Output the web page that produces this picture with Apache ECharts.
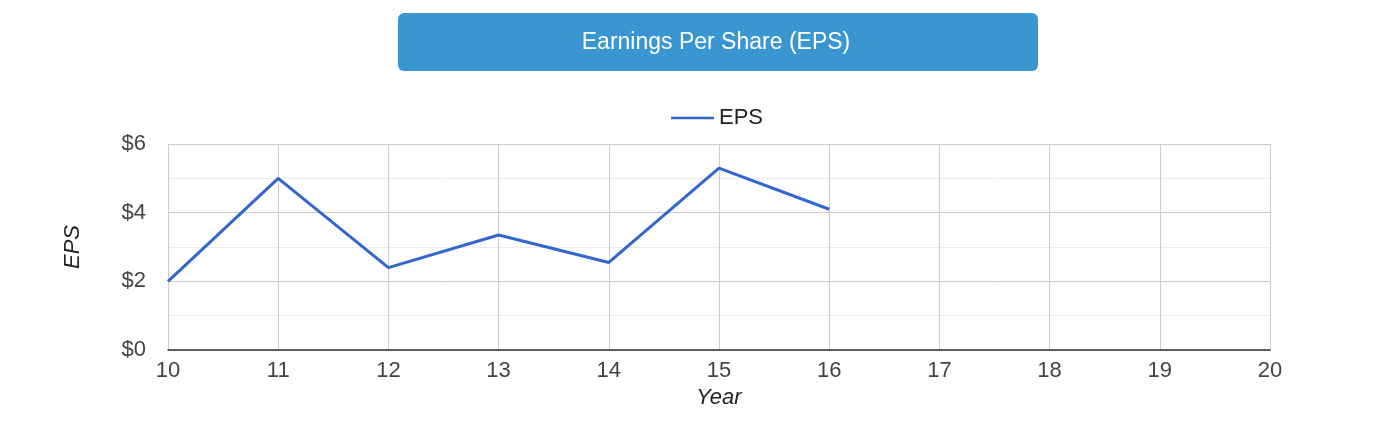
<!DOCTYPE html>
<html>
<head>
<meta charset="utf-8">
<script src="https://cdn.jsdelivr.net/npm/echarts@6/dist/echarts.min.js"></script>
<style>
html,body{margin:0;padding:0;background:#fff;}
#c{width:1377px;height:443px;}
</style>
</head>
<body>
<div id="c"></div>
<script>
var years = [10, 11, 12, 13, 14, 15, 16];
var eps = [2.0, 5.0, 2.4, 3.35, 2.55, 5.3, 4.1];
var seriesName = 'EPS';
var titleText = 'Earnings Per Share (EPS)';

var chart = echarts.init(document.getElementById('c'), null, {renderer: 'canvas'});
var font = '"Liberation Sans", Arial, Helvetica, sans-serif';
chart.setOption({
  animation: false,
  textStyle: {fontFamily: font},
  graphic: [
    {type: 'rect', left: 398, top: 13, shape: {width: 640, height: 58, r: 6}, style: {fill: '#3a96d0'}},
    {type: 'text', x: 716, y: 43, style: {text: titleText, fill: '#ffffff', font: '23px ' + font, align: 'center', verticalAlign: 'middle'}}
  ],
  legend: {
    top: 102, left: 666,
    itemWidth: 43, itemHeight: 12, itemGap: 8,
    textStyle: {fontSize: 22, color: '#222', fontFamily: font},
    data: [{name: seriesName, icon: 'path://M0,5 L43,5 L43,7.5 L0,7.5 Z'}]
  },
  grid: {left: 168, right: 107, top: 144, bottom: 93, containLabel: false},
  xAxis: {
    type: 'value', min: 10, max: 20, interval: 1,
    name: 'Year', nameLocation: 'middle', nameGap: 37,
    nameTextStyle: {fontSize: 22, fontStyle: 'italic', color: '#222', fontFamily: font},
    axisLine: {show: true, lineStyle: {color: '#333', width: 1.5}},
    axisTick: {show: false},
    axisLabel: {fontSize: 22, color: '#444', margin: 10, fontFamily: font},
    splitLine: {show: true, lineStyle: {color: '#cccccc', width: 1}}
  },
  yAxis: {
    type: 'value', min: 0, max: 6, interval: 2,
    name: 'EPS', nameLocation: 'middle', nameGap: 84, nameRotate: 90,
    nameTextStyle: {fontSize: 22, fontStyle: 'italic', color: '#222', fontFamily: font},
    axisLine: {show: false},
    axisTick: {show: false},
    axisLabel: {fontSize: 22, color: '#444', margin: 22, padding: [2, 0, 0, 0], formatter: function (v) { return '$' + v; }, fontFamily: font},
    splitLine: {show: true, lineStyle: {color: '#cccccc', width: 1}},
    minorTick: {show: false, splitNumber: 2},
    minorSplitLine: {show: true, lineStyle: {color: '#ebebeb', width: 1}}
  },
  series: [{
    name: seriesName, type: 'line', symbol: 'none',
    data: years.map(function (y, i) { return [y, eps[i]]; }),
    lineStyle: {color: '#3366cc', width: 3},
    itemStyle: {color: '#3366cc'}
  }]
});
</script>
</body>
</html>
